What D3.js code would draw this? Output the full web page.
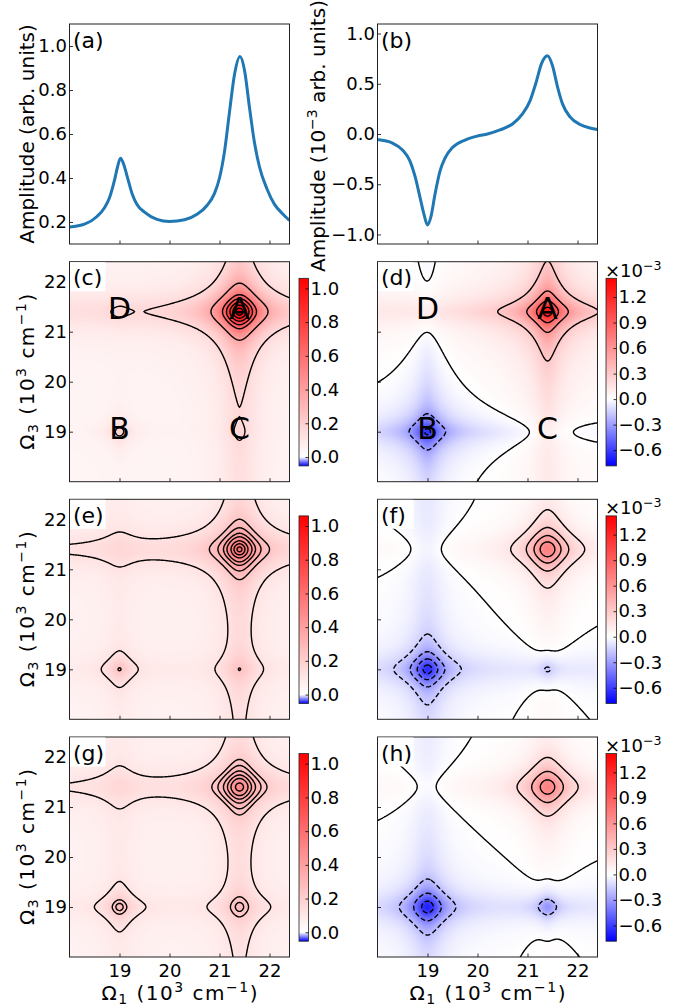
<!DOCTYPE html>
<html>
<head>
<meta charset="utf-8">
<script src="https://cdn.jsdelivr.net/npm/d3@7"></script>
<style>
  body { margin: 0; background: #fff; }
  svg { display: block; }
  text { font-family: "DejaVu Sans", sans-serif; fill: #000; }
</style>
</head>
<body>
<svg id="fig" width="695" height="1008"></svg>
<script>
// ---- 1D spectra (a) and (b)
const omegaA = [18.0, 18.3, 18.55, 18.7, 18.8, 18.9, 18.96, 19.02, 19.08, 19.15, 19.25, 19.35, 19.5, 19.75, 20.0, 20.3, 20.55, 20.75, 20.9, 21.0, 21.1, 21.2, 21.3, 21.41, 21.5, 21.6, 21.7, 21.8, 21.95, 22.1, 22.25, 22.4];
const ampA = [0.177, 0.19, 0.225, 0.265, 0.31, 0.39, 0.45, 0.49, 0.465, 0.41, 0.33, 0.28, 0.245, 0.212, 0.202, 0.21, 0.235, 0.275, 0.33, 0.4, 0.52, 0.7, 0.87, 0.952, 0.89, 0.72, 0.56, 0.45, 0.35, 0.28, 0.24, 0.207];
const omegaB = [18.0, 18.3, 18.5, 18.65, 18.75, 18.85, 18.93, 19.0, 19.07, 19.15, 19.25, 19.35, 19.5, 19.75, 20.0, 20.2, 20.45, 20.7, 20.9, 21.05, 21.17, 21.28, 21.4, 21.5, 21.6, 21.7, 21.85, 22.05, 22.25, 22.4];
const ampB = [-0.055, -0.09, -0.16, -0.27, -0.42, -0.63, -0.8, -0.905, -0.82, -0.6, -0.37, -0.24, -0.135, -0.06, -0.02, 0.0, 0.04, 0.1, 0.2, 0.33, 0.51, 0.7, 0.778, 0.68, 0.47, 0.3, 0.17, 0.095, 0.06, 0.045];

// ---- 2D maps: peaks A, B, C, D and the stripes through them (10^3 cm^-1)
const peakNames = ["A", "B", "C", "D"];
const peakW1 = [21.4, 19.0, 21.4, 19.0];
const peakW3 = [21.4, 19.0, 19.0, 21.4];
const bandCentres = [21.4, 19.0];

// left column: amplitude maps (c), (e), (g)
const widthsC = [0.35, 0.2, 0.2, 0.2];
const widthsAmp = [0.35, 0.2, 0.25, 0.3];
const ampsC = [0.85, 0.13, 0.03, 0.03];
const hBandC = [0.08, 0.0];
const vBandC = [0.08, 0.0];
const ampsE = [0.42, 0.145, 0.09, 0.015];
const hBandE = [0.07, 0.025];
const vBandE = [0.07, 0.025];
const ampsG = [0.32, 0.17, 0.13, 0.02];
const hBandG = [0.06, 0.03];
const vBandG = [0.06, 0.03];
const bgAmp = [0.04, 0.045, 0.045];
// points the contour lines pass through
const levelPtsC = [[19.3, 21.4], [21.97, 21.4], [21.74, 21.4], [21.66, 21.4], [21.59, 21.4], [21.53, 21.4], [21.47, 21.4]];
const levelPtsE = [[18.0, 21.5], [22.0, 21.4], [21.83, 21.4], [21.72, 21.4], [21.65, 21.4], [21.57, 21.4], [21.51, 21.4], [21.45, 21.4]];
const levelPtsG = [[18.0, 21.48], [21.95, 21.4], [21.83, 21.4], [21.72, 21.4], [21.64, 21.4], [21.57, 21.4], [21.48, 21.4]];

// right column: difference maps (d), (f), (h), units 10^-3
const widthsD = [0.2, 0.2, 0.2, 0.2];
const ampsD = [1.2, -0.6, 0.0, 0.02];
const hBandD = [0.05, -0.03];
const vBandD = [0.05, -0.03];
const levelsD = [-0.6, -0.3, 0, 0.3, 0.6, 0.9, 1.2];
const widthsF = [0.35, 0.28, 0.2, 0.3];
const ampsF = [0.63, -0.52, -0.15, 0.0];
const hBandF = [0.03, -0.06];
const vBandF = [0.045, -0.07];
const levelsF = [-0.6, -0.45, -0.3, -0.15, 0, 0.15, 0.3, 0.45, 0.6];
const widthsH = [0.35, 0.3, 0.2, 0.3];
const ampsH = [0.63, -0.56, -0.3, 0.0];
const hBandH = [0.04, -0.06];
const vBandH = [0.03, -0.06];
const levelsH = [-0.6, -0.4, -0.2, 0, 0.2, 0.4, 0.6];
const bgDiff = [0.015, 0.0, 0.0];

const ampTicks = [0, 0.2, 0.4, 0.6, 0.8, 1.0];
const diffTicks = [-0.6, -0.3, 0, 0.3, 0.6, 0.9, 1.2];
const omegaTicks = [19, 20, 21, 22];

const panels = [
  {id: "c", col: 0, row: 1, p: 1, widths: widthsC, bandW: 0.35, amps: ampsC, hBand: hBandC, vBand: vBandC, bg: bgAmp[0], levelPts: levelPtsC, letters: true},
  {id: "e", col: 0, row: 2, p: 1, widths: widthsAmp, bandW: 0.35, amps: ampsE, hBand: hBandE, vBand: vBandE, bg: bgAmp[1], levelPts: levelPtsE},
  {id: "g", col: 0, row: 3, p: 1, widths: widthsAmp, bandW: 0.35, amps: ampsG, hBand: hBandG, vBand: vBandG, bg: bgAmp[2], levelPts: levelPtsG},
  {id: "d", col: 1, row: 1, p: 0.5, widths: widthsD, bandW: 0.2, amps: ampsD, hBand: hBandD, vBand: vBandD, bg: bgDiff[0], levels: levelsD, letters: true},
  {id: "f", col: 1, row: 2, p: 1, widths: widthsF, bandW: 0.35, amps: ampsF, hBand: hBandF, vBand: vBandF, bg: bgDiff[1], levels: levelsF},
  {id: "h", col: 1, row: 3, p: 1, widths: widthsH, bandW: 0.35, amps: ampsH, hBand: hBandH, vBand: vBandH, bg: bgDiff[2], levels: levelsH}
];

// ---- layout
const svg = d3.select("#fig");
const AX = 220;
const colLeft = [69.5, 377.5];
const rowTop = [24, 261.7, 499.3, 737];
const cbLeft = [299, 606];
const cbWidth = [9.5, 10.5];
const TICK = 18, LABEL = 20;

const x = d3.scaleLinear([18, 22.4], [0, AX]);
const y2d = d3.scaleLinear([18, 22.4], [AX, 0]);
const blueWhiteRed = d3.piecewise(d3.interpolateRgb, ["#0000ff", "#ffffff", "#ff0000"]);
const colourDomains = [[-0.053, 0, 1.06], [-0.785, 0, 1.42]];

function lineshape(d, w, p) { return Math.pow(1 + (d / w) * (d / w), -p); }

function fieldValue(pn, o1, o3) {
  let v = pn.bg;
  for (let k = 0; k < 4; k++) {
    v += pn.amps[k] * lineshape(o1 - peakW1[k], pn.widths[k], pn.p) * lineshape(o3 - peakW3[k], pn.widths[k], pn.p);
  }
  for (let j = 0; j < 2; j++) {
    v += pn.hBand[j] * lineshape(o3 - bandCentres[j], pn.bandW, pn.p);
    v += pn.vBand[j] * lineshape(o1 - bandCentres[j], pn.bandW, pn.p);
  }
  return v;
}

// contour grid reaches past the frame so no line runs along the edges
const gridMin = 17.6, gridStep = 0.02, gridN = 261;
const gridPath = d3.geoPath(d3.geoTransform({
  point(px, py) {
    this.stream.point(x(gridMin + (px - 0.5) * gridStep), y2d(gridMin + (py - 0.5) * gridStep));
  }
}));

function heatmapURL(pn, colour) {
  const cv = document.createElement("canvas");
  cv.width = AX; cv.height = AX;
  const ctx = cv.getContext("2d");
  const img = ctx.createImageData(AX, AX);
  for (let r = 0; r < AX; r++) {
    for (let c = 0; c < AX; c++) {
      const col = d3.rgb(colour(fieldValue(pn, x.invert(c + 0.5), y2d.invert(r + 0.5))));
      const o = (r * AX + c) * 4;
      img.data[o] = col.r; img.data[o + 1] = col.g; img.data[o + 2] = col.b; img.data[o + 3] = 255;
    }
  }
  ctx.putImageData(img, 0, 0);
  return cv.toDataURL();
}

function styleAxis(sel) {
  sel.select(".domain").remove();
  sel.attr("font-size", null).attr("font-family", null);
  sel.selectAll(".tick line").attr("stroke", "#000").attr("stroke-width", 0.8);
  sel.selectAll(".tick text").attr("font-size", TICK).attr("fill", "#000");
}

// text with sub/superscripts: parts = [[text, "base"|"sub"|"sup"], ...]
function richText(sel, parts, size) {
  let shift = 0;
  parts.forEach(([t, kind]) => {
    const target = kind === "sup" ? -0.38 * size : kind === "sub" ? 0.22 * size : 0;
    sel.append("tspan").attr("dy", target - shift).attr("font-size", kind === "base" ? size : size * 0.7).text(t);
    shift = target;
  });
  return sel;
}

const omegaLabel = n => [["\u03a9", "base"], [n, "sub"], [" (10", "base"], ["3", "sup"], [" cm", "base"], ["\u22121", "sup"], [")", "base"]];

function frameAndTicks(g, ys, yTicks, yFmt, showXLabels) {
  const ya = g.append("g").call(d3.axisLeft(ys).tickValues(yTicks).tickSize(-3.5).tickPadding(2.5).tickFormat(yFmt));
  styleAxis(ya);
  const xa = g.append("g").attr("transform", `translate(0,${AX})`)
    .call(d3.axisBottom(x).tickValues(omegaTicks).tickSize(-3.5).tickPadding(7).tickFormat(showXLabels ? d3.format("d") : () => ""));
  styleAxis(xa);
  g.append("rect").attr("width", AX).attr("height", AX).attr("fill", "none").attr("stroke", "#222").attr("stroke-width", 1);
}

function panelLetter(g, id, box) {
  if (box) g.append("rect").attr("x", 0.5).attr("y", 0.5).attr("width", 35.5).attr("height", 29).attr("fill", "#fff");
  g.append("text").attr("x", 3.5).attr("y", 23.8).attr("font-family", '"DejaVu Serif", serif').attr("font-size", 22).text(`(${id})`);
}

// ---- panels (a) and (b)
function drawSpectrum(col, id, xs, vals, yDomain, yTicks) {
  const g = svg.append("g").attr("transform", `translate(${colLeft[col]},${rowTop[0]})`);
  const ys = d3.scaleLinear(yDomain, [AX, 0]);
  g.append("clipPath").attr("id", "clip-" + id).append("rect").attr("width", AX).attr("height", AX);
  const line = d3.line().x((d, i) => x(xs[i])).y(d => ys(d)).curve(d3.curveMonotoneX);
  g.append("path").attr("clip-path", `url(#clip-${id})`).attr("d", line(vals))
    .attr("fill", "none").attr("stroke", "#1f77b4").attr("stroke-width", 3);
  frameAndTicks(g, ys, yTicks, d3.format(".1f"), false);
  panelLetter(g, id, false);
}
drawSpectrum(0, "a", omegaA, ampA, [0.1, 1.1], [0.2, 0.4, 0.6, 0.8, 1.0]);
drawSpectrum(1, "b", omegaB, ampB, [-1.095, 1.095], [-1.0, -0.5, 0.0, 0.5, 1.0]);

svg.append("text").attr("transform", `translate(33.5,${rowTop[0] + AX / 2}) rotate(-90)`)
  .attr("text-anchor", "middle").attr("font-size", LABEL).text("Amplitude (arb. units)");
richText(svg.append("text").attr("transform", `translate(325,${rowTop[0] + AX / 2 + 2}) rotate(-90)`).attr("text-anchor", "middle"),
  [["Amplitude (10", "base"], ["\u22123", "sup"], [" arb. units)", "base"]], LABEL);

// ---- 2D panels
panels.forEach(pn => {
  const left = colLeft[pn.col], top = rowTop[pn.row];
  const g = svg.append("g").attr("transform", `translate(${left},${top})`);
  const clipId = "clip-" + pn.id;
  g.append("clipPath").attr("id", clipId).append("rect").attr("width", AX).attr("height", AX);
  const colour = d3.scaleDiverging(colourDomains[pn.col], blueWhiteRed).clamp(true);
  g.append("image").attr("href", heatmapURL(pn, colour)).attr("width", AX).attr("height", AX)
    .attr("preserveAspectRatio", "none");

  const vals = new Float64Array(gridN * gridN);
  for (let j = 0; j < gridN; j++) {
    for (let i = 0; i < gridN; i++) vals[j * gridN + i] = fieldValue(pn, gridMin + i * gridStep, gridMin + j * gridStep);
  }
  const levels = pn.levels || pn.levelPts.map(pt => fieldValue(pn, pt[0], pt[1])).sort(d3.ascending);
  const contours = d3.contours().size([gridN, gridN]).thresholds(levels)(Array.from(vals));
  g.append("g").attr("clip-path", `url(#${clipId})`)
    .selectAll("path").data(contours).join("path")
    .attr("d", gridPath).attr("fill", "none").attr("stroke", "#000").attr("stroke-width", 1.4)
    .attr("stroke-dasharray", d => d.value < -1e-9 ? "5,2.5" : null);

  frameAndTicks(g, y2d, omegaTicks, pn.col === 0 ? d3.format("d") : () => "", pn.row === 3);
  panelLetter(g, pn.id, true);

  if (pn.letters) {
    peakNames.forEach((nm, k) => {
      g.append("text").attr("x", x(peakW1[k])).attr("y", y2d(peakW3[k] + 0.06) + 10.8)
        .attr("text-anchor", "middle").attr("font-size", 30).text(nm);
    });
  }

  // colour bar
  const dom = colourDomains[pn.col];
  const cbTop = top + 16.6, cbH = 187.6;
  const gradId = "grad-" + pn.id;
  const grad = svg.append("defs").append("linearGradient").attr("id", gradId)
    .attr("x1", 0).attr("y1", 0).attr("x2", 0).attr("y2", 1);
  grad.append("stop").attr("offset", 0).attr("stop-color", "#ff0000");
  grad.append("stop").attr("offset", dom[2] / (dom[2] - dom[0])).attr("stop-color", "#ffffff");
  grad.append("stop").attr("offset", 1).attr("stop-color", "#0000ff");
  const cb = svg.append("g").attr("transform", `translate(${cbLeft[pn.col]},${cbTop})`);
  cb.append("rect").attr("width", cbWidth[pn.col]).attr("height", cbH).attr("fill", `url(#${gradId})`);
  const cbScale = d3.scaleLinear([dom[0], dom[2]], [cbH, 0]);
  const cbAxis = cb.append("g").attr("transform", `translate(${cbWidth[pn.col]},0)`)
    .call(d3.axisRight(cbScale).tickValues(pn.col === 0 ? ampTicks : diffTicks).tickSize(-3).tickPadding(2).tickFormat(d3.format(".1f")));
  styleAxis(cbAxis);
  cb.append("rect").attr("width", cbWidth[pn.col]).attr("height", cbH).attr("fill", "none").attr("stroke", "#222").attr("stroke-width", 0.8);
  if (pn.col === 1) {
    richText(svg.append("text").attr("x", cbLeft[1] - 1).attr("y", top + 15), [["\u00d710", "base"], ["\u22123", "sup"]], TICK);
  }
});

// axis labels of the 2D grid
[1, 2, 3].forEach(r => {
  richText(svg.append("text").attr("transform", `translate(33.5,${rowTop[r] + AX / 2}) rotate(-90)`)
    .attr("text-anchor", "middle").attr("textLength", 156).attr("lengthAdjust", "spacing"), omegaLabel("3"), LABEL);
});
[0, 1].forEach(c => {
  richText(svg.append("text").attr("x", colLeft[c] + AX / 2).attr("y", 1000)
    .attr("text-anchor", "middle").attr("textLength", 156).attr("lengthAdjust", "spacing"), omegaLabel("1"), LABEL);
});
</script>
</body>
</html>
